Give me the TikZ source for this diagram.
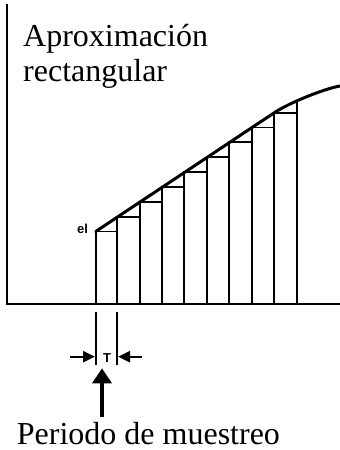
\documentclass[tikz,border=0pt]{standalone}
\usepackage{fontspec}
\setmainfont{Liberation Serif}
\newfontfamily\lblsans{Liberation Sans}
\usetikzlibrary{arrows.meta, positioning}

\begin{document}
\begin{tikzpicture}[
  x=1pt, y=-1pt,
  title/.style={inner sep=0pt, anchor=base west, font=\fontsize{32}{36}\selectfont},
  tag/.style={inner sep=0pt, font=\lblsans\bfseries\fontsize{13}{13}\selectfont},
  axisline/.style={line width=2pt},
  bar/.style={line width=1.9pt},
  curve/.style={line width=3pt, line cap=round, line join=round},
  dimline/.style={line width=1.8pt},
  dimarrow/.style={line width=2.4pt, -{Triangle[length=12pt,width=11pt]}},
  bigarrow/.style={line width=3.4pt, -{Triangle[length=15pt,width=19pt]}},
]
\useasboundingbox (0,0) rectangle (340,450);

\node[title] (aprox) at (23,46.7) {Aproximación};
\node[title] (rectang) at (23,81.7) {rectangular};

\draw[axisline] (7,4) -- (7,304) -- (340,304);

\draw[bar] (95.7,304) -- (95.7,231.5) -- (117.3,231.5);
\draw[bar] (117.3,304) -- (117.3,216.6) -- (140,216.6);
\draw[bar] (140,304) -- (140,201.8) -- (162.3,201.8);
\draw[bar] (162.3,304) -- (162.3,186.9) -- (184.3,186.9);
\draw[bar] (184.3,304) -- (184.3,172.1) -- (206.7,172.1);
\draw[bar] (206.7,304) -- (206.7,157.2) -- (229.3,157.2);
\draw[bar] (229.3,304) -- (229.3,142.4) -- (251.7,142.4);
\draw[bar] (251.7,304) -- (251.7,127.5) -- (274.3,127.5);
\draw[bar] (274.3,304) -- (274.3,112.7) -- (296.7,112.7);
\draw[bar] (296.7,304) -- (296.7,101.3);

\draw[curve] (95.7,231.5) -- (274.3,112.7) .. controls (289.3,102.7) and (325,88.5) .. (340,86);

\node[tag, anchor=base west] (ei) at (77,233.5) {el};

\draw[dimline] (95.7,311.7) -- (95.7,365);
\draw[dimline] (117.3,311.7) -- (117.3,365);

\coordinate (lfrom) at (70,356.7);
\coordinate (lto) at (95,356.7);
\coordinate (rfrom) at (141.7,356.7);
\coordinate (rto) at (118,356.7);
\draw[dimarrow] (lfrom) -- (lto);
\draw[dimarrow] (rfrom) -- (rto);
\node[tag] (period) at (107,358.5) {T};

\node[title] (muestreo) at (16.7,444) {Periodo de muestreo};
\coordinate (upfrom) at (102,417);
\coordinate (upto) at (102,368.3);
\draw[bigarrow] (upfrom) -- (upto);

\end{tikzpicture}
\end{document}
